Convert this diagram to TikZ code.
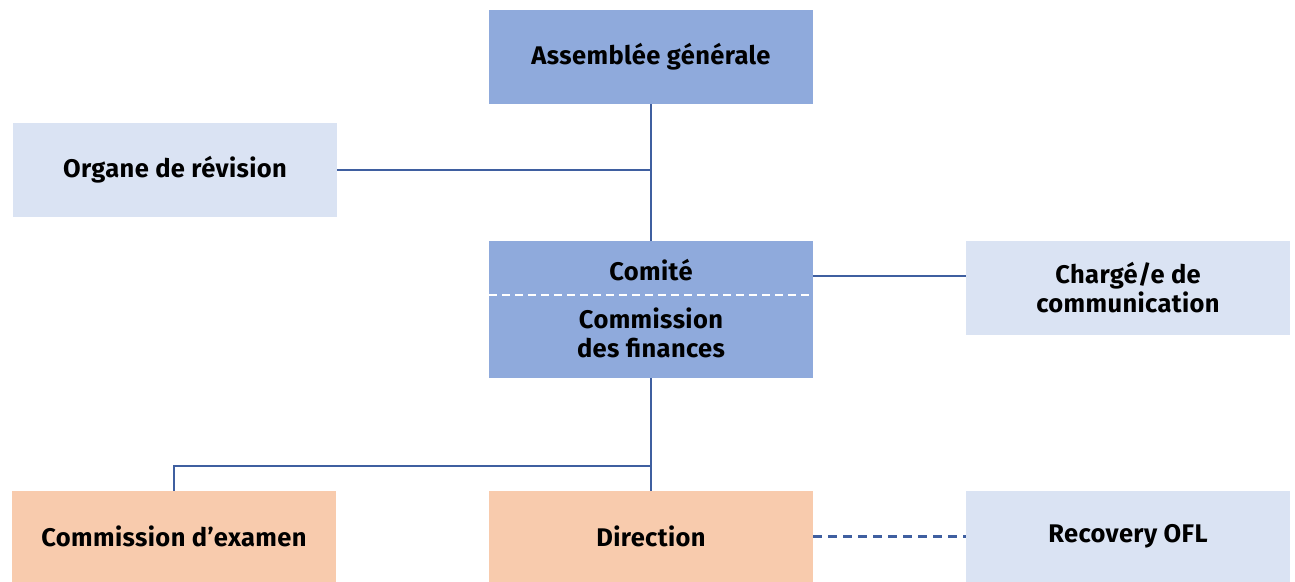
\documentclass[tikz,border=0pt]{standalone}
\usepackage{fontspec}
\setmainfont{Fira Sans}[UprightFont=* Bold,LetterSpace=1.5]
\definecolor{boxdark}{HTML}{8FAADC}
\definecolor{boxlight}{HTML}{DAE3F3}
\definecolor{boxorange}{HTML}{F8CBAD}
\definecolor{linkblue}{HTML}{3F5FA0}
\begin{document}
\begin{tikzpicture}[x=1pt,y=-1pt,
  txt/.style={font=\fontsize{25.5}{28.5}\selectfont,align=center,inner sep=0pt},
  box/.style={txt,draw=none,minimum width=324pt,minimum height=94pt},
  dark/.style={box,fill=boxdark},
  light/.style={box,fill=boxlight},
  orange/.style={box,fill=boxorange},
  link/.style={draw=linkblue,line width=2.3pt},
  dlink/.style={link,dash pattern=on 9pt off 6pt}]
\useasboundingbox (0,0) rectangle (1295,581);
\node[dark] (ag) at (651,57) {Assemblée générale};
\node[light] (or) at (175,170) {Organe de révision};
\node[dark,minimum height=137pt] (co) at (651,309.5) {};
\node[txt] (comite) at (651,270) {Comité};
\node[txt] (cf) at (651,333) {Commission\\des finances};
\draw[white,line width=2pt,dash pattern=on 8pt off 5pt] (co.west |- 0,295) coordinate (dl) -- (co.east |- 0,295) coordinate (dr);
\node[light] (ch) at (1128,287.5) {Chargé/e de\\communication};
\node[orange,minimum height=91pt] (ce) at (174,536.5) {Commission d’examen};
\node[orange,minimum height=91pt] (di) at (651,536.5) {Direction};
\node[light,minimum height=91pt] (re) at (1128,536.5) {Recovery OFL};
\draw[link] (ag.south) -- (co.north);
\draw[link] (or.east) -- (or.east -| ag.south);
\draw[link] (co.east |- 0,276) -- (ch.west |- 0,276);
\draw[link] (co.south) -- (di.north);
\draw[link] (ce.north) -- (ce.north |- 0,466) -- (di.north |- 0,466);
\draw[dlink] (di.east) -- (re.west);
\end{tikzpicture}
\end{document}
